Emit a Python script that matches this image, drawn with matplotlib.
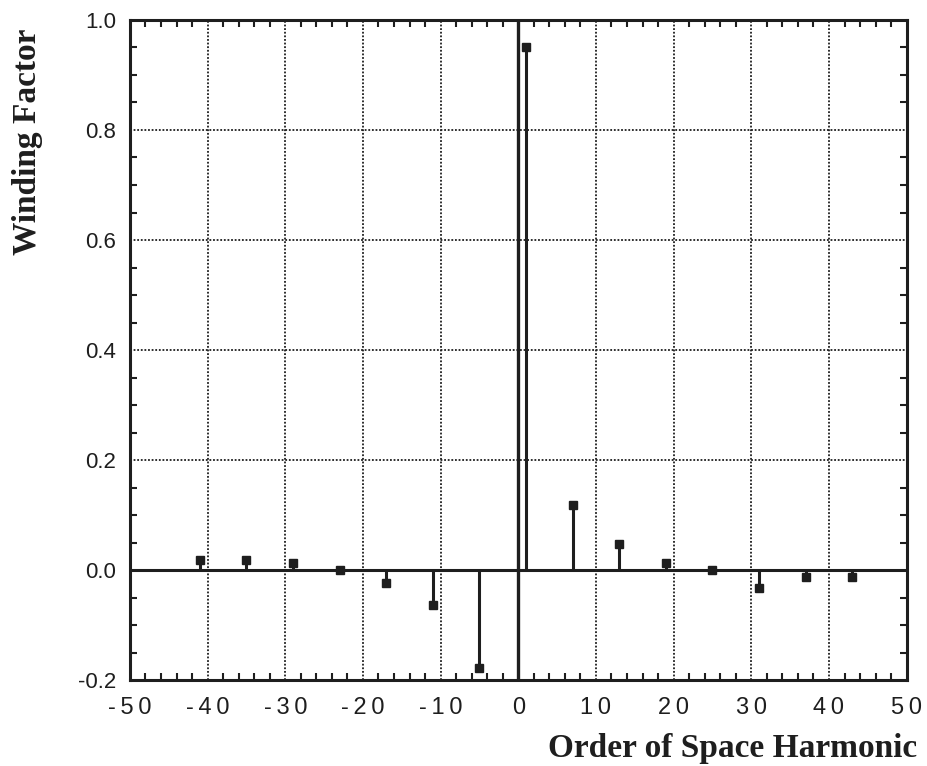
import matplotlib
matplotlib.use("Agg")
import matplotlib.pyplot as plt
from matplotlib.ticker import MultipleLocator

harmonics = [-41, -35, -29, -23, -17, -11, -5, 1, 7, 13, 19, 25, 31, 37, 43]
winding = [0.018, 0.018, 0.013, 0.0, -0.024, -0.064, -0.178, 0.95,
           0.118, 0.047, 0.013, 0.0, -0.033, -0.013, -0.013]
xticks = [-50, -40, -30, -20, -10, 0, 10, 20, 30, 40, 50]
yticks = [-0.2, 0.0, 0.2, 0.4, 0.6, 0.8, 1.0]

ink = "#1e1e1e"
fig = plt.figure(figsize=(9.28, 7.66), dpi=100)
ax = fig.add_axes([0.140, 0.112, 0.837, 0.862])

ax.set_xlim(-50, 50)
ax.set_ylim(-0.2, 1.0)

ax.grid(True, which="major", color=ink, linestyle=(0, (1, 1)), linewidth=1.3)
ax.set_axisbelow(True)
ax.axhline(0, color=ink, linewidth=2.2, zorder=2)
ax.axvline(0, color=ink, linewidth=2.4, zorder=2)

for h, w in zip(harmonics, winding):
    ax.vlines(h, 0, w, color=ink, linewidth=2.2, zorder=3)
ax.plot(harmonics, winding, linestyle="none", marker="s", markersize=6,
        color=ink, zorder=4)

ax.set_xticks(xticks)
ax.set_xticklabels(["\u2009".join(str(t)) for t in xticks])
ax.set_yticks(yticks)
ax.set_yticklabels([f"{t:.1f}" for t in yticks])
ax.xaxis.set_minor_locator(MultipleLocator(2))
ax.yaxis.set_minor_locator(MultipleLocator(0.05))
ax.tick_params(which="both", direction="in", top=True, right=True,
               color=ink, width=1.5)
ax.tick_params(which="major", length=0)
ax.tick_params(axis="x", which="major", pad=12, labelsize=17)
ax.tick_params(axis="y", which="major", pad=10, labelsize=16)
ax.tick_params(which="minor", length=5)
for lab in ax.get_xticklabels() + ax.get_yticklabels():
    lab.set_fontfamily("Liberation Sans")
    lab.set_color(ink)
for s in ax.spines.values():
    s.set_linewidth(2.2)
    s.set_color(ink)

fig.text(0.030, 0.963, "Winding Factor", rotation=90, ha="center", va="top",
         fontsize=24, fontweight="bold", family="Liberation Serif", color=ink)
fig.text(0.988, 0.023, "Order of Space Harmonic", ha="right", va="center",
         fontsize=24, fontweight="bold", family="Liberation Serif", color=ink)

fig.savefig("out.png", dpi=100, facecolor="white")
